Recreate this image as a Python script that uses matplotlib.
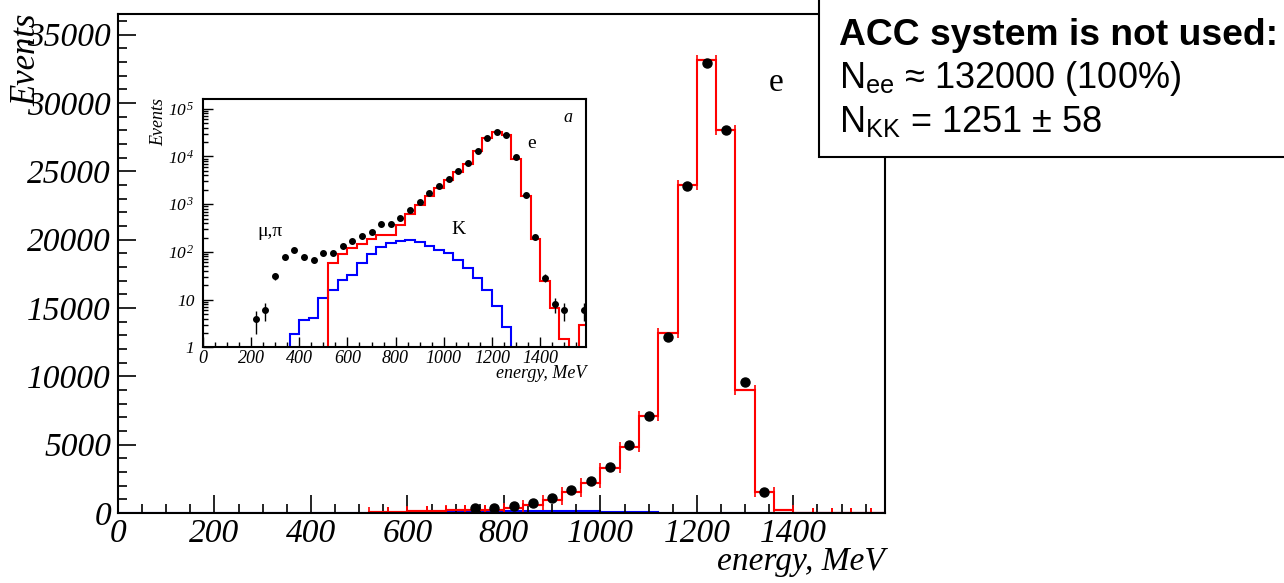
import numpy as np
import matplotlib
matplotlib.use("Agg")
import matplotlib.pyplot as plt
from matplotlib.patches import Rectangle
from matplotlib.ticker import MultipleLocator, LogLocator, NullFormatter

plt.rcParams['font.family'] = ['Liberation Serif', 'DejaVu Serif']
plt.rcParams['font.style'] = 'italic'
plt.rcParams['mathtext.fontset'] = 'custom'
plt.rcParams['mathtext.rm'] = 'Liberation Serif:italic'
plt.rcParams['mathtext.it'] = 'Liberation Serif:italic'

# experimental points (bin centres, MeV) and counts
data_x = [220, 260, 300, 340, 380, 420, 460, 500, 540, 580, 620, 660, 700,
          740, 780, 820, 860, 900, 940, 980, 1020, 1060, 1100, 1140, 1180,
          1220, 1260, 1300, 1340, 1380, 1420, 1460, 1500, 1580]
data_y = [3.9, 6, 31, 77, 108, 77, 66, 97, 97, 131, 173, 220, 255,
          380, 387, 525, 760, 1120, 1700, 2350, 3350, 4950, 7130, 12900, 23900,
          32900, 28000, 9550, 1560, 210, 29, 8, 6, 6]

# MC e+e- histogram
ee_edges = list(range(520, 1601, 40))
ee_vals = [58, 91, 119, 147, 190, 227, 227, 368, 620, 950, 1500, 2180, 3270,
           4820, 7100, 13200, 24000, 33100, 28000, 9000, 1500, 187, 24, 6.6,
           1.5, 0, 2.9]

# MC K+K- histogram
kk_edges = list(range(360, 1281, 40))
kk_vals = [1.9, 3.7, 4.1, 10.7, 16, 26, 32, 58, 91, 129, 151, 170, 178, 160,
           136, 110, 94, 68, 45, 28, 16, 7.4, 2.7]

xmax = 1590

fig = plt.figure(figsize=(12.84, 5.83), dpi=100)

# ---- main linear plot
ax = fig.add_axes([118/1284, 70/583, 767/1284, 499/583])
# K histogram padded with empty bins over the full range
full_edges = np.arange(0, 1601, 40)
kk_full = np.zeros(len(full_edges) - 1)
kk_full[9:9 + len(kk_vals)] = kk_vals
ax.stairs(kk_full, full_edges, baseline=None, color='blue', lw=1.5)
ee_c = np.array(ee_edges[:-1]) + 20
ax.stairs(ee_vals, ee_edges, baseline=0, color='red', lw=1.5)
ax.errorbar(ee_c, ee_vals, xerr=20, fmt='none', ecolor='red', capsize=3.5,
            elinewidth=1.5, capthick=1.2)
dx = np.array(data_x)
dy = np.array(data_y, dtype=float)
sel = (dx >= 740) & (dx <= 1340)
ax.errorbar(dx[sel], dy[sel], yerr=np.sqrt(dy[sel]), fmt='o', color='black',
            ms=6.5, elinewidth=1, zorder=5)
ax.set_xlim(0, xmax)
ax.set_ylim(0, 36500)
ax.xaxis.set_major_locator(MultipleLocator(200))
ax.xaxis.set_minor_locator(MultipleLocator(50))
ax.yaxis.set_major_locator(MultipleLocator(5000))
ax.yaxis.set_minor_locator(MultipleLocator(1000))
ax.tick_params(which='both', direction='in', top=False, right=False,
               labelsize=24, width=1.2)
ax.tick_params(which='major', length=13)
ax.tick_params(which='minor', length=6.5)
ax.tick_params(axis='y', pad=5)
ax.tick_params(axis='x', pad=4)
for s in ax.spines.values():
    s.set_linewidth(1.5)
ax.text(-0.119, 1.0, 'Events', transform=ax.transAxes, rotation=90,
        ha='center', va='top', fontsize=25)
ax.text(1.0, -0.114, 'energy, MeV', transform=ax.transAxes, ha='right',
        va='baseline', fontsize=24)
ax.text(1365, 31500, 'e', ha='center', va='center', fontsize=24,
        style='normal')

# ---- inset log plot
ins = fig.add_axes([202.8/1284, (583-347.3)/583, 383.2/1284, 248.3/583])
ins.set_yscale('log')
ins.stairs(np.clip(kk_vals, 0.3, None), kk_edges, baseline=0.3, color='blue',
           lw=1.5)
ins.stairs(np.clip(ee_vals, 0.3, None), ee_edges, baseline=0.3, color='red',
           lw=1.5)
ins.errorbar(dx, dy, yerr=np.sqrt(dy), fmt='o', color='black', ms=4,
             elinewidth=1, zorder=5)
ins.set_xlim(0, xmax)
ins.set_ylim(1, 1.6e5)
ins.xaxis.set_major_locator(MultipleLocator(200))
ins.xaxis.set_minor_locator(MultipleLocator(50))
ins.set_yticks([1, 10, 100, 1e3, 1e4, 1e5])
ins.set_yticklabels(['1', '10', r'$10^{\,2}$', r'$10^{\,3}$', r'$10^{\,4}$',
                     r'$10^{\,5}$'])
ins.yaxis.set_minor_locator(LogLocator(base=10, subs=np.arange(2, 10)))
ins.yaxis.set_minor_formatter(NullFormatter())
ins.tick_params(which='both', direction='in', top=False, right=False,
                width=1)
ins.tick_params(axis='x', labelsize=13, pad=2)
ins.tick_params(axis='y', labelsize=12.5, pad=6)
ins.tick_params(which='major', length=7)
ins.tick_params(which='minor', length=3.5)
for s in ins.spines.values():
    s.set_linewidth(1.5)
ins.text(-0.114, 1.005, 'Events', transform=ins.transAxes, rotation=90,
         ha='center', va='top', fontsize=13)
ins.text(1.0, -0.122, 'energy, MeV', transform=ins.transAxes, ha='right',
         va='baseline', fontsize=13)
ins.text(1514, 6.7e4, 'a', ha='center', va='center', fontsize=13)
ins.text(1364, 1.9e4, 'e', ha='center', va='center', fontsize=14,
         style='normal')
ins.text(1061, 300, 'K', ha='center', va='center', fontsize=14,
         style='normal')
ins.text(279, 263, 'μ,π', ha='center', va='center', fontsize=14,
         style='normal')

# ---- info box
fig.patches.append(Rectangle((819/1284, 1 - 157/583), 0.5, 0.5,
                             transform=fig.transFigure, facecolor='white',
                             edgecolor='black', lw=1.5, zorder=5))
fig.text(839/1284, 1 - 45/583, 'ACC system is not used:', fontsize=26.8,
         fontweight='bold', family='Liberation Sans', style='normal',
         va='baseline', zorder=6)
fig.text(839/1284, 1 - 88/583, r'N$_{\mathregular{ee}}$ ≈ 132000 (100%)',
         fontsize=26, family='Liberation Sans', style='normal',
         va='baseline', zorder=6)
fig.text(839/1284, 1 - 133/583, r'N$_{\mathregular{KK}}$ = 1251 ± 58',
         fontsize=26, family='Liberation Sans', style='normal',
         va='baseline', zorder=6)

fig.savefig('out.png', dpi=100)
